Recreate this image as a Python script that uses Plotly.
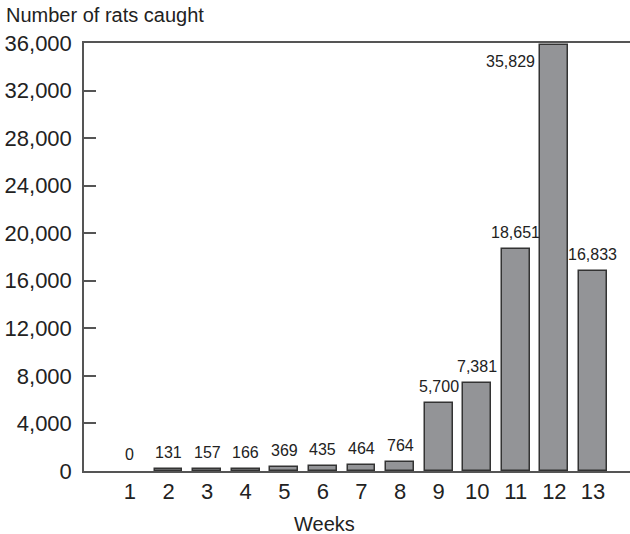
import plotly.graph_objects as go

weeks = [1, 2, 3, 4, 5, 6, 7, 8, 9, 10, 11, 12, 13]
rats = [0, 131, 157, 166, 369, 435, 464, 764, 5700, 7381, 18651, 35829, 16833]
y_ticks = [0, 4000, 8000, 12000, 16000, 20000, 24000, 28000, 32000, 36000]
y_title = "Number of rats caught"
x_title = "Weeks"

FONT = "Liberation Sans"
TXT = "#222222"

fig = go.Figure()
fig.add_trace(go.Bar(
    x=weeks, y=rats, width=0.72,
    marker=dict(color="#939497",
                line=dict(color="#333333", width=[0 if v == 0 else 1.5 for v in rats])),
    hoverinfo="x+y",
))

annotations = []
peak = max(rats)
for w, v in zip(weeks, rats):
    if v == peak:
        annotations.append(dict(x=w - 0.36, y=v, xref="x", yref="y",
                                text=f"{v:,}", showarrow=False,
                                xanchor="right", yanchor="top", xshift=-3, yshift=-6,
                                font=dict(family=FONT, size=16, color=TXT)))
    else:
        annotations.append(dict(x=w, y=v, xref="x", yref="y",
                                text=f"{v:,}", showarrow=False,
                                xanchor="center", yanchor="bottom", yshift=6,
                                font=dict(family=FONT, size=16, color=TXT)))

annotations.append(dict(x=-0.147, y=1.035, xref="paper", yref="paper",
                        text=y_title, showarrow=False, xanchor="left", yanchor="bottom",
                        font=dict(family=FONT, size=20, color=TXT)))
annotations.append(dict(x=0.441, y=-0.093, xref="paper", yref="paper",
                        text=x_title, showarrow=False, xanchor="center", yanchor="top",
                        font=dict(family=FONT, size=20, color=TXT)))

fig.update_layout(
    width=630, height=534,
    margin=dict(l=84, r=0, t=43, b=63, autoexpand=False),
    paper_bgcolor="white", plot_bgcolor="white",
    showlegend=False,
    bargap=0,
    annotations=annotations,
    xaxis=dict(
        range=[-0.19, 13.96], automargin=False,
        tickmode="array", tickvals=weeks, ticktext=[str(w) for w in weeks],
        showgrid=False, zeroline=False,
        showline=True, linecolor="#555555", linewidth=1.5, mirror=True,
        ticks="", tickfont=dict(family=FONT, size=22, color=TXT),
    ),
    yaxis=dict(
        range=[0, 36000], automargin=False,
        tickmode="array", tickvals=y_ticks, ticktext=[f"{t:,}" for t in y_ticks],
        showgrid=False, zeroline=False,
        showline=True, linecolor="#555555", linewidth=1.5,
        ticks="inside", ticklen=12, tickwidth=1.5, tickcolor="#555555",
        ticklabelstandoff=6,
        tickfont=dict(family=FONT, size=22, color=TXT),
    ),
)

fig.write_html("out.html",
               config={"displayModeBar": False},
               post_script="document.body.style.margin='0';document.body.style.overflow='hidden';")
